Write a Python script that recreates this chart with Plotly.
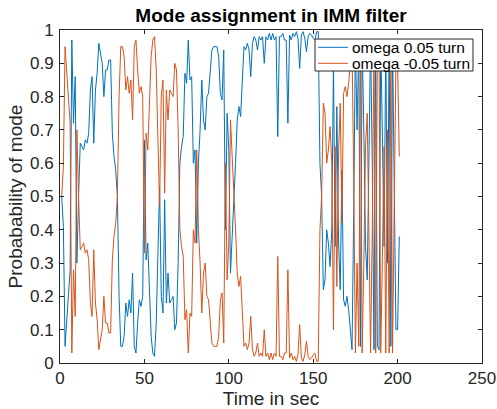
import plotly.graph_objects as go

time_sec = list(range(1, 202))

# probability of mode "omega 0.05 turn"
p_pos = [
    0.50, 0.41, 0.05, 0.14, 0.22, 0.28, 0.97, 0.72, 0.86, 0.30,
    0.50, 0.66, 0.65, 0.64, 0.67, 0.66, 0.69, 0.82, 0.86, 0.66,
    0.82, 0.87, 0.96, 0.93, 0.90, 0.80, 0.88, 0.88, 0.91, 0.91,
    0.69, 0.62, 0.58, 0.50, 0.20, 0.05, 0.05, 0.08, 0.18, 0.14,
    0.19, 0.15, 0.27, 0.05, 0.03, 0.12, 0.19, 0.17, 0.20, 0.67,
    0.31, 0.36, 0.20, 0.08, 0.03, 0.02, 0.12, 0.30, 0.53, 0.20,
    0.15, 0.49, 0.18, 0.27, 0.18, 0.19, 0.20, 0.10, 0.12, 0.30,
    0.60, 0.65, 0.68, 0.87, 0.84, 0.97, 0.85, 0.86, 0.60, 0.64,
    0.36, 0.60, 0.70, 0.85, 0.73, 0.70, 0.80, 0.81, 0.88, 0.94,
    0.95, 0.95, 0.95, 0.92, 0.81, 0.79, 0.94, 0.40, 0.75, 0.64,
    0.27, 0.38, 0.52, 0.60, 0.73, 0.77, 0.74, 0.86, 0.95, 0.94,
    0.96, 0.94, 0.86, 0.96, 0.98, 0.97, 0.94, 0.98, 0.97, 0.98,
    0.90, 0.98, 0.97, 0.99, 0.97, 0.99, 0.97, 0.98, 0.68, 0.98,
    0.98, 0.99, 0.97, 0.97, 0.72, 0.985, 0.97, 0.99, 0.98, 0.995,
    0.975, 0.885, 0.985, 0.995, 0.975, 0.935, 0.98, 0.99, 0.985, 0.975,
    0.97, 0.995, 0.995, 0.60, 0.50, 0.22, 0.25, 0.40, 0.36, 0.29,
    0.40, 0.90, 0.35, 0.77, 0.37, 0.22, 0.58, 0.19, 0.17, 0.20,
    0.16, 0.10, 0.04, 0.45, 0.97, 0.70, 0.95, 0.05, 0.97, 0.70,
    0.35, 0.25, 0.65, 0.97, 0.60, 0.04, 0.97, 0.05, 0.04, 0.97,
    0.68, 0.35, 0.97, 0.30, 0.97, 0.05, 0.97, 0.50, 0.10, 0.10,
    0.38,
]
p_neg = [round(1 - v, 3) for v in p_pos]

series_names = ["omega 0.05 turn", "omega -0.05 turn"]
series_colors = ["#0072BD", "#D95319"]
x_ticks = [0, 50, 100, 150, 200, 250]
y_ticks = [0, 0.1, 0.2, 0.3, 0.4, 0.5, 0.6, 0.7, 0.8, 0.9, 1]
y_tick_labels = ["0", "0.1", "0.2", "0.3", "0.4", "0.5", "0.6", "0.7", "0.8", "0.9", "1"]

FONT = "Liberation Sans, Arial, Helvetica, sans-serif"
AX = "#262626"
W, H = 497, 409
# plot area in pixels: x 60..482, y 30..363
ML, MR, MT, MB = 60, W - 482, 30, H - 363
PW, PH = W - ML - MR, H - MT - MB


def px(xp):  # pixel -> paper
    return (xp - ML) / PW


def py(yp):
    return (H - MB - yp) / PH


fig = go.Figure()
for name, vals, col in zip(series_names, [p_pos, p_neg], series_colors):
    fig.add_trace(go.Scatter(x=time_sec, y=vals, mode="lines", name=name,
                             line=dict(color=col, width=1), showlegend=False))

axis_common = dict(showline=True, linecolor=AX, linewidth=1, mirror="ticks",
                   ticks="inside", ticklen=4, tickwidth=1, tickcolor=AX,
                   showgrid=False, zeroline=False, automargin=False,
                   tickfont=dict(family=FONT, size=17, color=AX))

# legend box drawn in MATLAB style
shapes = [dict(type="rect", xref="paper", yref="paper",
               x0=px(315), x1=px(473), y0=py(71), y1=py(39),
               line=dict(color=AX, width=1), fillcolor="white", layer="above")]
annotations = []
row_y = [47.3, 63.3]
for name, col, ry in zip(series_names, series_colors, row_y):
    shapes.append(dict(type="line", xref="paper", yref="paper",
                       x0=px(318), x1=px(348), y0=py(ry), y1=py(ry),
                       line=dict(color=col, width=1), layer="above"))
    annotations.append(dict(text=name, xref="paper", yref="paper",
                            x=px(350), y=py(ry), xanchor="left", yanchor="middle",
                            showarrow=False,
                            font=dict(family=FONT, size=15.5, color="black")))

fig.update_layout(
    width=W, height=H,
    margin=dict(l=ML, r=MR, t=MT, b=MB),
    paper_bgcolor="white", plot_bgcolor="white",
    title=dict(text="<b>Mode assignment in IMM filter</b>", x=0.5, xref="paper",
               xanchor="center", y=1 - 15 / H, yanchor="middle",
               font=dict(family=FONT, size=19, color="black")),
    xaxis=dict(range=[0, 250], tickvals=x_ticks,
               title=dict(text="Time in sec", standoff=0,
                          font=dict(family=FONT, size=19, color=AX)),
               **axis_common),
    yaxis=dict(range=[0, 1], tickvals=y_ticks, ticktext=y_tick_labels,
               ticklabelstandoff=2,
               title=dict(text="Probabability of mode", standoff=2,
                          font=dict(family=FONT, size=19, color=AX)),
               **axis_common),
    shapes=shapes,
    annotations=annotations,
    showlegend=False,
    hovermode=False,
)

# remove the page's default body margin so the figure fills the window exactly
fig.write_html("out.html", config={"displayModeBar": False},
               post_script="document.body.style.margin='0px';")
